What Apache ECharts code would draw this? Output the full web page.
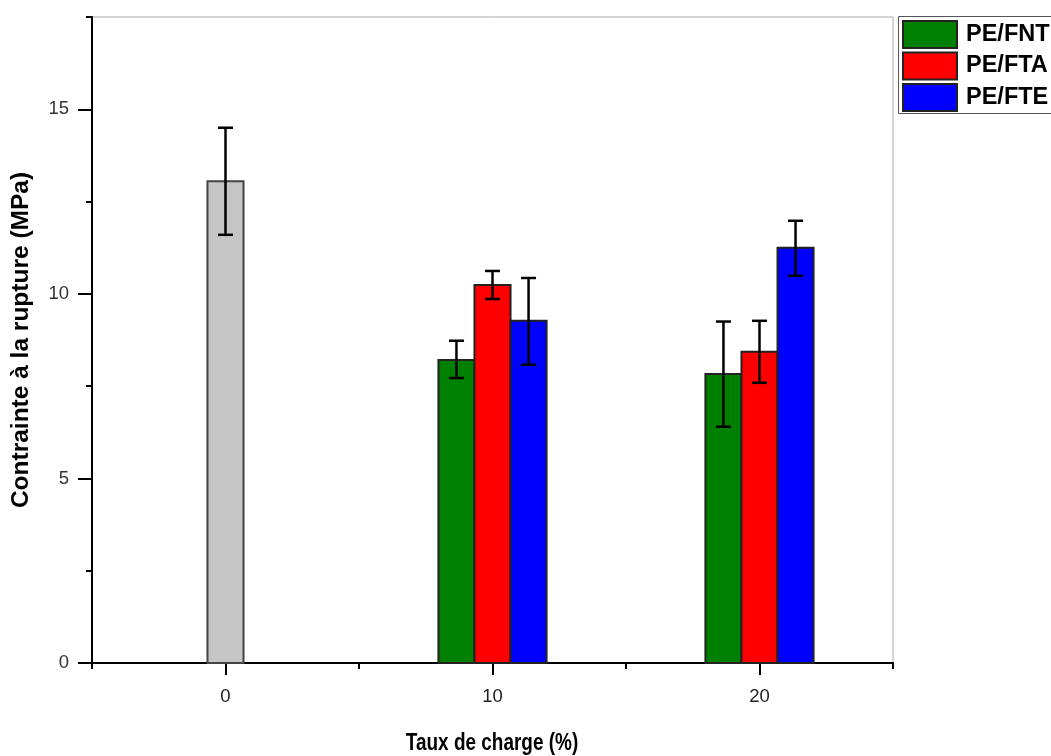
<!DOCTYPE html>
<html><head><meta charset="utf-8">
<script src="https://cdn.jsdelivr.net/npm/echarts@6/dist/echarts.min.js"></script>
<style>html,body{margin:0;padding:0;background:#fff}#c{width:1051px;height:756px}</style>
</head><body><div id="c"></div>
<script>
// ---- data ----
const loadings = [0, 10, 20];
const controlValue = [[0, 13.05, 11.6, 14.5]];
const fntValues = [8.21, 7.83];
const fntLow = [7.72, 6.40];
const fntHigh = [8.73, 9.25];
const ftaValues = [10.24, 8.43];
const ftaLow = [9.86, 7.59];
const ftaHigh = [10.62, 9.27];
const fteValues = [9.27, 11.25];
const fteLow = [8.08, 10.49];
const fteHigh = [10.43, 11.98];
const filledLoadings = [10, 20];
const seriesNames = ['PE/FNT', 'PE/FTA', 'PE/FTE'];
const yMajorTicks = [0, 5, 10, 15];
const yMinorTicks = [2.5, 7.5, 12.5, 17.5];
const xMajorTicks = [0, 10, 20];
const xMinorTicks = [-5, 5, 15, 25];
const xTitle = 'Taux de charge (%)';
const yTitle = 'Contrainte à la rupture (MPa)';

// ---- build ----
const barW = 1.35;
function rows(vals, lo, hi) { return filledLoadings.map((x, i) => [x, vals[i], lo[i], hi[i]]); }
function makeRender(offset, stroke) {
  return function (params, api) {
    const x = api.value(0) + offset, v = api.value(1), lo = api.value(2), hi = api.value(3);
    const a = api.coord([x - barW / 2, v]);
    const b = api.coord([x + barW / 2, 0]);
    const pl = api.coord([x, lo]);
    const ph = api.coord([x, hi]);
    const cap = 7.5;
    const es = { stroke: '#000', lineWidth: 2.5 };
    return {
      type: 'group',
      children: [
        { type: 'rect', shape: { x: a[0], y: a[1], width: b[0] - a[0], height: b[1] - a[1] },
          style: { fill: api.visual('color'), stroke: stroke, lineWidth: 2 } },
        { type: 'line', shape: { x1: pl[0], y1: pl[1], x2: ph[0], y2: ph[1] }, style: es },
        { type: 'line', shape: { x1: ph[0] - cap, y1: ph[1], x2: ph[0] + cap, y2: ph[1] }, style: es },
        { type: 'line', shape: { x1: pl[0] - cap, y1: pl[1], x2: pl[0] + cap, y2: pl[1] }, style: es }
      ]
    };
  };
}
const colors = ['#008000', '#ff0000', '#0000ff'];
const chart = echarts.init(document.getElementById('c'), null, { renderer: 'canvas' });
const sans = '"Liberation Sans", Arial, sans-serif';
chart.setOption({
  animation: false,
  backgroundColor: '#fff',
  grid: { left: 92, right: 158, top: 17, bottom: 93, show: true, borderColor: '#aaa', borderWidth: 1 },
  legend: {
    data: seriesNames, orient: 'vertical', left: 898, top: 16, icon: 'rect',
    itemWidth: 54, itemHeight: 27, itemGap: 2.5,
    padding: [4, 4, 3, 4], borderWidth: 0,
    textStyle: { fontFamily: sans, fontWeight: 'bold', fontSize: 23.5, color: '#000', padding: [0, 0, 0, 4] }
  },
  graphic: [
    { type: 'rect', x: 898.5, y: 16.5, shape: { x: 0, y: 0, width: 200, height: 97 },
      style: { fill: 'none', stroke: '#555', lineWidth: 1 }, z: -1 },
    { type: 'text', x: 492, y: 743, scaleX: 0.79, originX: 0, originY: 0,
      style: { text: xTitle, fontFamily: sans, fontWeight: 'bold', fontSize: 24, fill: '#000', align: 'center', verticalAlign: 'middle' } }
  ],
  xAxis: [
    { type: 'value', min: -5, max: 25, position: 'bottom',
      axisLine: { show: true, onZero: false, lineStyle: { color: '#000', width: 2 } },
      axisTick: { show: true, length: 12, customValues: xMajorTicks, lineStyle: { color: '#000', width: 2 } },
      axisLabel: { customValues: xMajorTicks, margin: 24, fontFamily: sans, fontSize: 18.5, color: '#222' },
      splitLine: { show: false } },
    { type: 'value', min: -5, max: 25, position: 'bottom', gridIndex: 0,
      axisLine: { show: false, onZero: false },
      axisTick: { show: true, length: 6, customValues: xMinorTicks, lineStyle: { color: '#000', width: 2 } },
      axisLabel: { show: false }, splitLine: { show: false } }
  ],
  yAxis: [
    { type: 'value', min: 0, max: 17.5, position: 'left',
      axisLine: { show: true, onZero: false, lineStyle: { color: '#000', width: 2 } },
      axisTick: { show: true, length: 14, customValues: yMajorTicks, lineStyle: { color: '#000', width: 2 } },
      axisLabel: { customValues: yMajorTicks, margin: 23, fontFamily: sans, fontSize: 18.5, color: '#333' },
      splitLine: { show: false },
      name: yTitle, nameLocation: 'middle', nameGap: 58, nameRotate: 90,
      nameTextStyle: { fontFamily: sans, fontWeight: 'bold', fontSize: 24.5, color: '#000' } },
    { type: 'value', min: 0, max: 17.5, position: 'left',
      axisLine: { show: false, onZero: false },
      axisTick: { show: true, length: 6, customValues: yMinorTicks, lineStyle: { color: '#000', width: 2 } },
      axisLabel: { show: false }, splitLine: { show: false } }
  ],
  series: [
    { type: 'custom', name: 'Témoin', data: controlValue, renderItem: makeRender(0, '#444'),
      itemStyle: { color: '#c6c6c6' }, encode: { x: 0, y: [1, 2, 3] }, z: 3 },
    { type: 'custom', name: seriesNames[0], data: rows(fntValues, fntLow, fntHigh), renderItem: makeRender(-barW, '#222'),
      itemStyle: { color: colors[0], borderColor: '#222', borderWidth: 2 }, encode: { x: 0, y: [1, 2, 3] }, z: 3 },
    { type: 'custom', name: seriesNames[1], data: rows(ftaValues, ftaLow, ftaHigh), renderItem: makeRender(0, '#222'),
      itemStyle: { color: colors[1], borderColor: '#222', borderWidth: 2 }, encode: { x: 0, y: [1, 2, 3] }, z: 3 },
    { type: 'custom', name: seriesNames[2], data: rows(fteValues, fteLow, fteHigh), renderItem: makeRender(barW, '#222'),
      itemStyle: { color: colors[2], borderColor: '#222', borderWidth: 2 }, encode: { x: 0, y: [1, 2, 3] }, z: 3 }
  ]
});
</script></body></html>
